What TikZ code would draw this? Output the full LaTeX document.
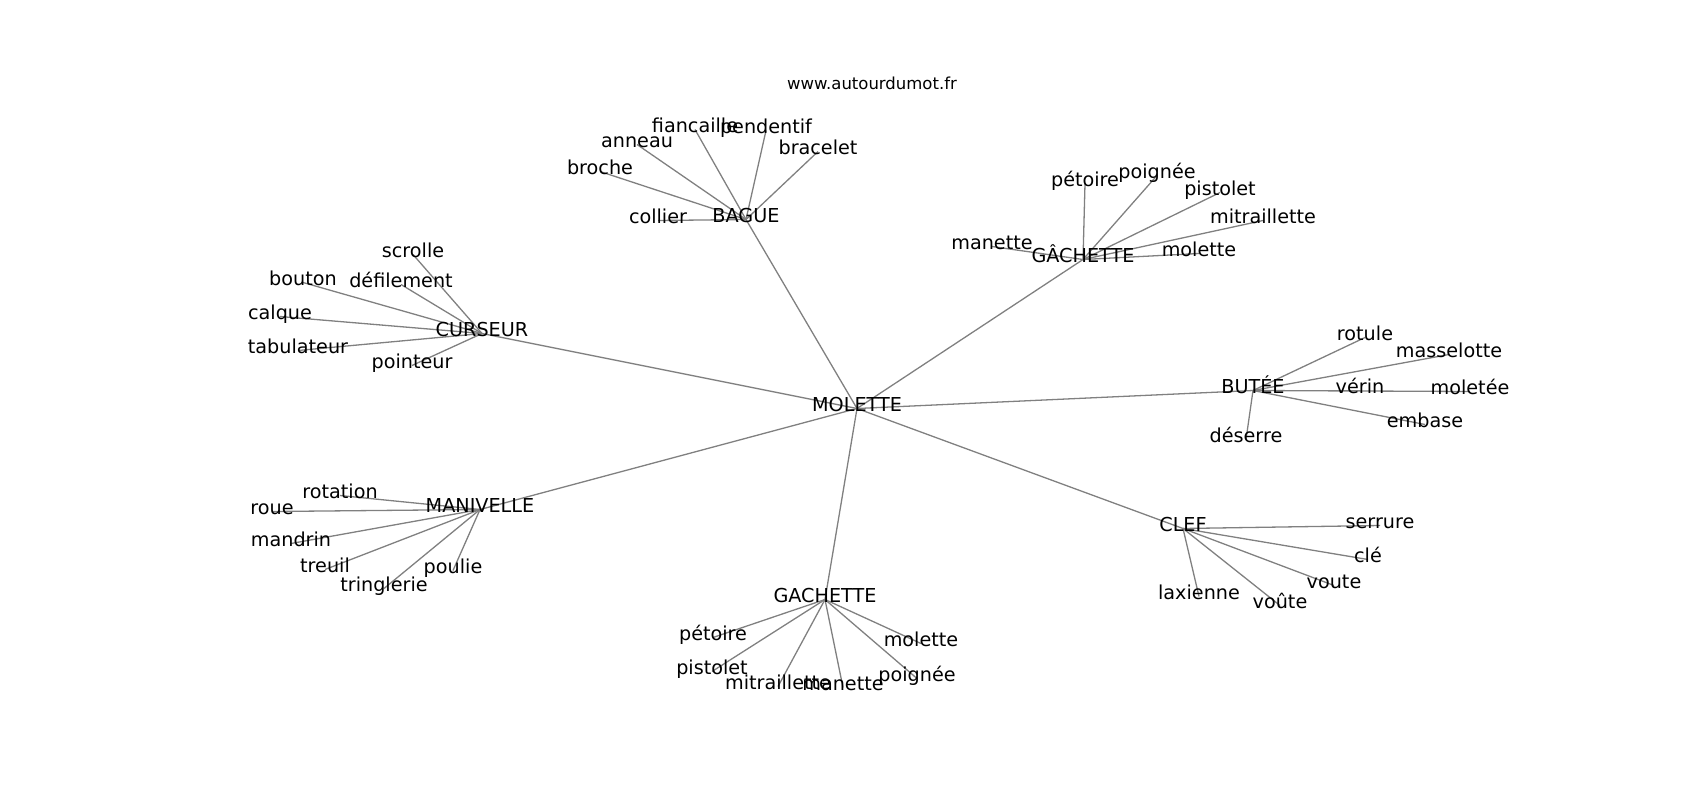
\documentclass[tikz,border=0pt]{standalone}
\usepackage{fontspec}
\setmainfont{DejaVu Sans}
\pgfdeclarelayer{bg}
\pgfsetlayers{bg,main}
\tikzset{
  lbl/.style={inner sep=0pt, text height=0.76em, text depth=0.24em,
    font=\fontsize{19.2}{23}\selectfont, text=black},
  ttl/.style={inner sep=0pt, text height=0.76em, text depth=0.24em,
    font=\fontsize{16.5}{19}\selectfont, text=black},
  lnk/.style={draw=gray, line width=1.3pt}
}
\begin{document}
\begin{tikzpicture}[x=1pt,y=-1pt]
\useasboundingbox (0,0) rectangle (1700,800);
\begin{scope}[yshift=-3.5pt]
\node[ttl] (title) at (872,83) {www.autourdumot.fr};
% hubs
\node[lbl] (mol) at (857,405) {MOLETTE};
\node[lbl] (bag) at (746,216) {BAGUE};
\node[lbl] (gach) at (1083,256) {GÂCHETTE};
\node[lbl] (cur) at (482,330) {CURSEUR};
\node[lbl] (but) at (1253,387) {BUTÉE};
\node[lbl] (man) at (480,506) {MANIVELLE};
\node[lbl] (gac) at (825,596) {GACHETTE};
\node[lbl] (clef) at (1183,525) {CLEF};
% BAGUE leaves
\node[lbl] (b1) at (658,217) {collier};
\node[lbl] (b2) at (600,168) {broche};
\node[lbl] (b3) at (637,141) {anneau};
\node[lbl] (b4) at (695,126) {fiancaille};
\node[lbl] (b5) at (766,127) {pendentif};
\node[lbl] (b6) at (818,148) {bracelet};
% GÂCHETTE leaves
\node[lbl] (g1) at (1085,180) {pétoire};
\node[lbl] (g2) at (1157,172) {poignée};
\node[lbl] (g3) at (1220,189) {pistolet};
\node[lbl] (g4) at (1263,217) {mitraillette};
\node[lbl] (g5) at (1199,250) {molette};
\node[lbl] (g6) at (992,243) {manette};
% CURSEUR leaves
\node[lbl] (c1) at (413,251) {scrolle};
\node[lbl] (c2) at (401,281) {défilement};
\node[lbl] (c3) at (303,279) {bouton};
\node[lbl] (c4) at (280,313) {calque};
\node[lbl] (c5) at (298,347) {tabulateur};
\node[lbl] (c6) at (412,362) {pointeur};
% BUTÉE leaves
\node[lbl] (u1) at (1365,334) {rotule};
\node[lbl] (u2) at (1449,351) {masselotte};
\node[lbl] (u3) at (1360,387) {vérin};
\node[lbl] (u4) at (1470,388) {moletée};
\node[lbl] (u5) at (1425,421) {embase};
\node[lbl] (u6) at (1246,436) {déserre};
% MANIVELLE leaves
\node[lbl] (m1) at (340,492) {rotation};
\node[lbl] (m2) at (272,508) {roue};
\node[lbl] (m3) at (291,540) {mandrin};
\node[lbl] (m4) at (325,566) {treuil};
\node[lbl] (m5) at (384,585) {tringlerie};
\node[lbl] (m6) at (453,567) {poulie};
% GACHETTE leaves
\node[lbl] (a1) at (713,634) {pétoire};
\node[lbl] (a2) at (712,668) {pistolet};
\node[lbl] (a3) at (778,683) {mitraillette};
\node[lbl] (a4) at (843,684) {manette};
\node[lbl] (a5) at (921,640) {molette};
\node[lbl] (a6) at (917,675) {poignée};
% CLEF leaves
\node[lbl] (k1) at (1380,522) {serrure};
\node[lbl] (k2) at (1368,556) {clé};
\node[lbl] (k3) at (1334,582) {voute};
\node[lbl] (k4) at (1280,602) {voûte};
\node[lbl] (k5) at (1199,593) {laxienne};
\begin{pgfonlayer}{bg}
\foreach \h in {bag,gach,cur,but,man,gac,clef}
  \draw[lnk] (mol.center) -- (\h.center);
\foreach \l in {b1,b2,b3,b4,b5,b6}
  \draw[lnk] (bag.center) -- (\l.center);
\foreach \l in {g1,g2,g3,g4,g5,g6}
  \draw[lnk] (gach.center) -- (\l.center);
\foreach \l in {c1,c2,c3,c4,c5,c6}
  \draw[lnk] (cur.center) -- (\l.center);
\foreach \l in {u1,u2,u3,u4,u5,u6}
  \draw[lnk] (but.center) -- (\l.center);
\foreach \l in {m1,m2,m3,m4,m5,m6}
  \draw[lnk] (man.center) -- (\l.center);
\foreach \l in {a1,a2,a3,a4,a5,a6}
  \draw[lnk] (gac.center) -- (\l.center);
\foreach \l in {k1,k2,k3,k4,k5}
  \draw[lnk] (clef.center) -- (\l.center);
\end{pgfonlayer}
\end{scope}
\end{tikzpicture}
\end{document}
